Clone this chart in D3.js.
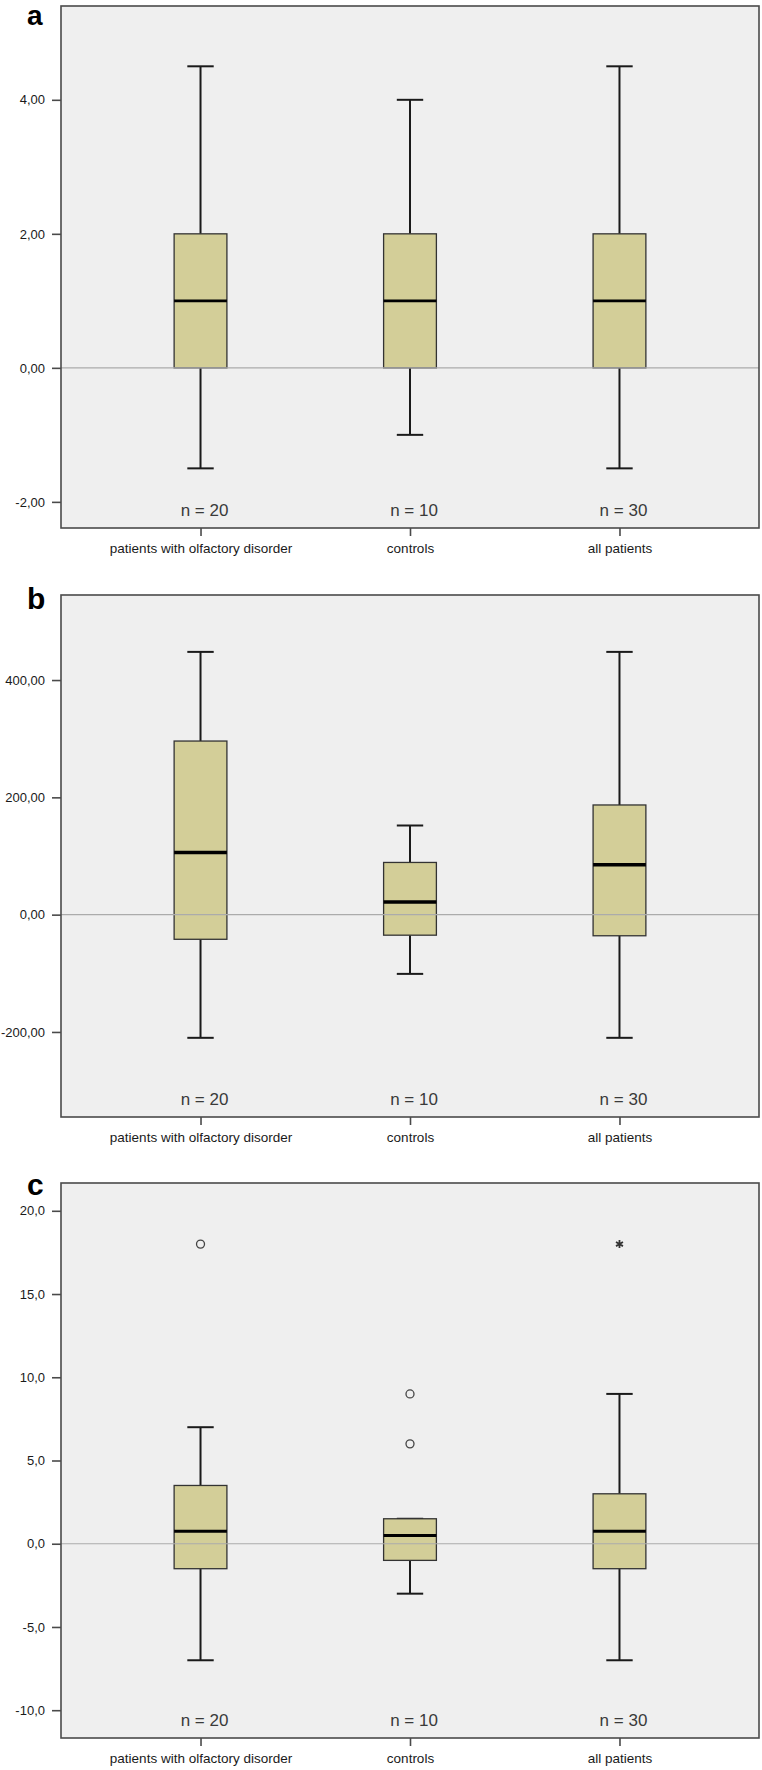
<!DOCTYPE html>
<html>
<head>
<meta charset="utf-8">
<script src="https://cdn.jsdelivr.net/npm/d3@7/dist/d3.min.js"></script>
<style>
  html, body { margin: 0; padding: 0; background: #ffffff; }
  svg { display: block; }
</style>
</head>
<body>
<script>
// ---------- DATA ----------
const categories = ["patients with olfactory disorder", "controls", "all patients"];
const nLabels = ["n = 20", "n = 10", "n = 30"];

// Panel a
const aWhiskerLow  = [-1.5, -1.0, -1.5];
const aQ1          = [0, 0, 0];
const aMedian      = [1, 1, 1];
const aQ3          = [2, 2, 2];
const aWhiskerHigh = [4.5, 4.0, 4.5];
const aTicks = [-2, 0, 2, 4];
const aDomain = [-2.39, 5.40];

// Panel b
const bWhiskerLow  = [-210, -101, -210];
const bQ1          = [-42, -35, -36];
const bMedian      = [106, 21.5, 85];
const bQ3          = [296, 89, 187];
const bWhiskerHigh = [448, 152, 448];
const bTicks = [-200, 0, 200, 400];
const bDomain = [-345, 545];

// Panel c
const cWhiskerLow  = [-7, -3, -7];
const cQ1          = [-1.5, -1, -1.5];
const cMedian      = [0.75, 0.5, 0.75];
const cQ3          = [3.5, 1.5, 3.0];
const cWhiskerHigh = [7, 1.5, 9];
const cOutlierCat   = [0, 1, 1, 2];
const cOutlierValue = [18, 9, 6, 18];
const cOutlierKind  = ["circle", "circle", "circle", "extreme"];
const cTicks = [-10, -5, 0, 5, 10, 15, 20];
const cDomain = [-11.67, 21.67];

// ---------- LAYOUT ----------
const W = 762, H = 1770;
const plotLeft = 61, plotRight = 759;

const fmt2 = v => d3.format(".2f")(v).replace(".", ",").replace("\u2212", "-");
const fmt1 = v => d3.format(".1f")(v).replace(".", ",").replace("\u2212", "-");

const panels = [
  { label: "a", top: 6,    bottom: 528,  domain: aDomain, ticks: aTicks, fmt: fmt2,
    lo: aWhiskerLow, q1: aQ1, med: aMedian, q3: aQ3, hi: aWhiskerHigh, outliers: [] , labelY: 25, labelSize: 28, medW: 2.6},
  { label: "b", top: 595,  bottom: 1117, domain: bDomain, ticks: bTicks, fmt: fmt2,
    lo: bWhiskerLow, q1: bQ1, med: bMedian, q3: bQ3, hi: bWhiskerHigh, outliers: [], labelY: 609, labelSize: 30, medW: 3.4 },
  { label: "c", top: 1183, bottom: 1738, domain: cDomain, ticks: cTicks, fmt: fmt1,
    lo: cWhiskerLow, q1: cQ1, med: cMedian, q3: cQ3, hi: cWhiskerHigh,
    outliers: cOutlierCat.map((c, i) => ({ cat: c, value: cOutlierValue[i], kind: cOutlierKind[i] })), labelY: 1195, labelSize: 30, medW: 3.0 }
];

const svg = d3.select("body").append("svg")
  .attr("width", W).attr("height", H)
  .attr("font-family", "'Liberation Sans', Arial, sans-serif");

svg.append("rect").attr("width", W).attr("height", H).attr("fill", "#ffffff");

const x = d3.scalePoint().domain(d3.range(categories.length)).range([plotLeft, plotRight]).padding(0.666);
const step = x.step();
const boxW = step * 0.252;
const capW = boxW * 0.5;

panels.forEach(p => {
  const y = d3.scaleLinear().domain(p.domain).range([p.bottom, p.top]);
  const g = svg.append("g");

  // background
  g.append("rect")
    .attr("x", plotLeft).attr("y", p.top)
    .attr("width", plotRight - plotLeft).attr("height", p.bottom - p.top)
    .attr("fill", "#efefef");

  const idx = d3.range(categories.length);

  // whiskers (vertical)
  g.selectAll(".wlo").data(idx).join("line")
    .attr("x1", i => x(i)).attr("x2", i => x(i))
    .attr("y1", i => y(p.q1[i])).attr("y2", i => y(p.lo[i]))
    .attr("stroke", "#1a1a1a").attr("stroke-width", 2);
  g.selectAll(".whi").data(idx).join("line")
    .attr("x1", i => x(i)).attr("x2", i => x(i))
    .attr("y1", i => y(p.q3[i])).attr("y2", i => y(p.hi[i]))
    .attr("stroke", "#1a1a1a").attr("stroke-width", 2);
  // caps
  g.selectAll(".clo").data(idx).join("line")
    .attr("x1", i => x(i) - capW / 2).attr("x2", i => x(i) + capW / 2)
    .attr("y1", i => y(p.lo[i])).attr("y2", i => y(p.lo[i]))
    .attr("stroke", "#1a1a1a").attr("stroke-width", 2);
  g.selectAll(".chi").data(idx).join("line")
    .attr("x1", i => x(i) - capW / 2).attr("x2", i => x(i) + capW / 2)
    .attr("y1", i => y(p.hi[i])).attr("y2", i => y(p.hi[i]))
    .attr("stroke", "#1a1a1a").attr("stroke-width", 2);

  // boxes
  g.selectAll(".box").data(idx).join("rect")
    .attr("x", i => x(i) - boxW / 2)
    .attr("y", i => y(p.q3[i]))
    .attr("width", boxW)
    .attr("height", i => y(p.q1[i]) - y(p.q3[i]))
    .attr("fill", "#d3ce98")
    .attr("stroke", "#333333").attr("stroke-width", 1.3);

  // zero reference line
  g.append("line")
    .attr("x1", plotLeft).attr("x2", plotRight)
    .attr("y1", y(0)).attr("y2", y(0))
    .attr("stroke", "#ababab").attr("stroke-width", 1.2);

  // medians
  g.selectAll(".med").data(idx).join("line")
    .attr("x1", i => x(i) - boxW / 2).attr("x2", i => x(i) + boxW / 2)
    .attr("y1", i => y(p.med[i])).attr("y2", i => y(p.med[i]))
    .attr("stroke", "#000000").attr("stroke-width", p.medW);

  // outliers
  p.outliers.forEach(o => {
    if (o.kind === "circle") {
      g.append("circle")
        .attr("cx", x(o.cat)).attr("cy", y(o.value)).attr("r", 4)
        .attr("fill", "none").attr("stroke", "#444").attr("stroke-width", 1.3);
    } else {
      const sym = d3.symbolAsterisk || d3.symbolCross;
      g.append("path")
        .attr("d", d3.symbol().type(sym).size(45)())
        .attr("transform", `translate(${x(o.cat)},${y(o.value)})`)
        .attr("fill", "none").attr("stroke", "#333").attr("stroke-width", 1.8);
    }
  });

  // n labels
  g.selectAll(".nlab").data(idx).join("text")
    .attr("x", i => x(i) + 4)
    .attr("y", p.bottom - 12.5)
    .attr("text-anchor", "middle")
    .attr("font-size", 17)
    .attr("fill", "#3a3a3a")
    .text(i => nLabels[i]);

  // frame
  g.append("rect")
    .attr("x", plotLeft).attr("y", p.top)
    .attr("width", plotRight - plotLeft).attr("height", p.bottom - p.top)
    .attr("fill", "none").attr("stroke", "#4a4a4a").attr("stroke-width", 1.6);

  // y axis
  const yAxis = g.append("g")
    .attr("transform", `translate(${plotLeft},0)`)
    .call(d3.axisLeft(y).tickValues(p.ticks).tickFormat(p.fmt).tickSize(9).tickPadding(7).tickSizeOuter(0));
  yAxis.select(".domain").remove();
  yAxis.selectAll(".tick line").attr("stroke", "#4a4a4a").attr("stroke-width", 1.6);
  yAxis.selectAll(".tick text").attr("font-size", 13).attr("fill", "#1a1a1a")
    .attr("font-family", "'Liberation Sans', Arial, sans-serif");

  // x axis
  const xAxis = g.append("g")
    .attr("transform", `translate(0,${p.bottom})`)
    .call(d3.axisBottom(x).tickFormat(i => categories[i]).tickSize(8).tickPadding(7).tickSizeOuter(0));
  xAxis.select(".domain").remove();
  xAxis.selectAll(".tick line").attr("stroke", "#4a4a4a").attr("stroke-width", 1.6);
  xAxis.selectAll(".tick text").attr("font-size", 13.5).attr("fill", "#1a1a1a")
    .attr("font-family", "'Liberation Sans', Arial, sans-serif");

  // panel label
  svg.append("text")
    .attr("x", 27).attr("y", p.labelY)
    .attr("font-size", p.labelSize).attr("font-weight", "bold").attr("fill", "#000")
    .text(p.label);
});
</script>
</body>
</html>
